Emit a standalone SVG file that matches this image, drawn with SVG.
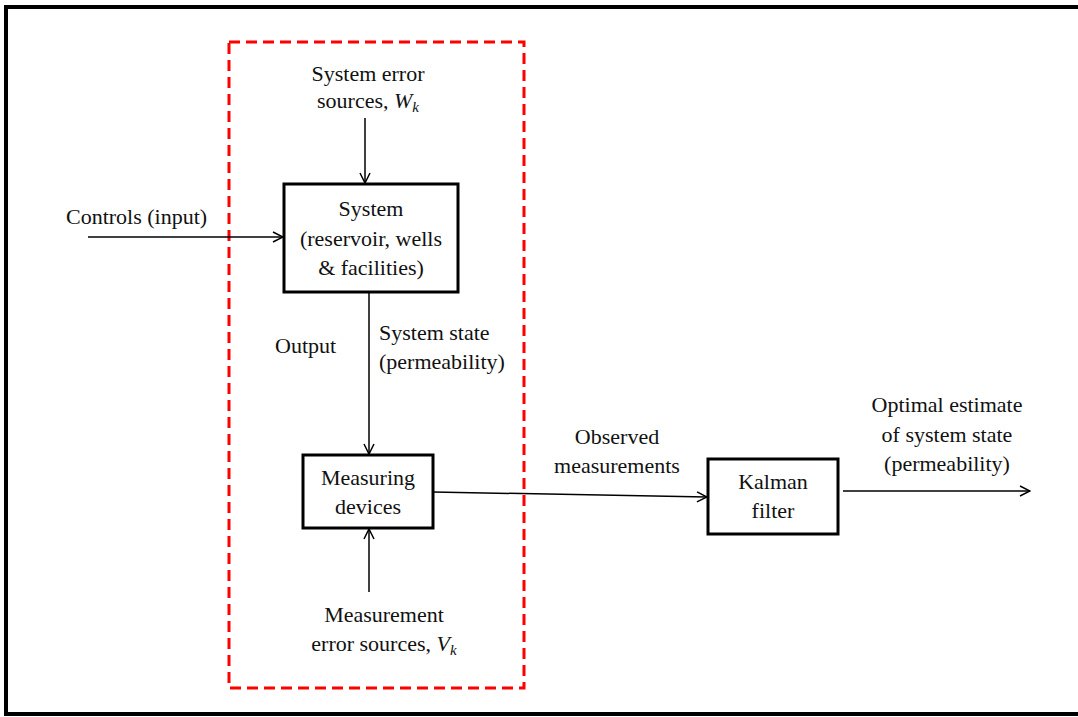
<svg xmlns="http://www.w3.org/2000/svg" width="1078" height="717" viewBox="0 0 1078 717">
  <style>
    text { font-family: "Liberation Serif", "Times New Roman", serif; font-size: 22px; fill: #111; }
    .c { text-anchor: middle; }
    .m { font-style: italic; }
    .box { fill: #fff; stroke: #000; stroke-width: 3; }
    .ln { fill: none; stroke: #000; stroke-width: 1.5; }
  </style>
  <defs>
    <marker id="arr" viewBox="0 0 12 12" refX="11" refY="6" markerWidth="12" markerHeight="12" markerUnits="userSpaceOnUse" orient="auto">
      <path d="M1,1 L11,6 L1,11" fill="none" stroke="#000" stroke-width="1.5"/>
    </marker>
  </defs>

  <!-- outer frame -->
  <rect x="0" y="0" width="1078" height="717" fill="#fff"/>
  <rect x="6" y="7" width="1080" height="707" fill="none" stroke="#000" stroke-width="4"/>

  <!-- dashed boundary -->
  <rect x="229" y="42" width="295" height="646" fill="none" stroke="#f00" stroke-width="3" stroke-dasharray="11 6"/>

  <!-- connectors -->
  <g id="connectors">
    <line class="ln" x1="365" y1="118" x2="365" y2="183" marker-end="url(#arr)"/>
    <line class="ln" x1="88" y1="237" x2="283" y2="237" marker-end="url(#arr)"/>
    <line class="ln" x1="369" y1="288" x2="369" y2="454" marker-end="url(#arr)"/>
    <line class="ln" x1="369" y1="592" x2="369" y2="529" marker-end="url(#arr)"/>
    <line class="ln" x1="433" y1="492" x2="707" y2="497" marker-end="url(#arr)"/>
    <line class="ln" x1="843" y1="491" x2="1030" y2="491" marker-end="url(#arr)"/>
  </g>

  <!-- nodes -->
  <g id="system">
    <rect class="box" x="284" y="184" width="174" height="108"/>
    <text class="c" x="371" y="216">System</text>
    <text class="c" x="371" y="246">(reservoir, wells</text>
    <text class="c" x="371" y="275">&amp; facilities)</text>
  </g>
  <g id="measuring">
    <rect class="box" x="303" y="455" width="130" height="73"/>
    <text class="c" x="368" y="485">Measuring</text>
    <text class="c" x="368" y="514">devices</text>
  </g>
  <g id="kalman">
    <rect class="box" x="708" y="459" width="130" height="75"/>
    <text class="c" x="773" y="489">Kalman</text>
    <text class="c" x="773" y="518">filter</text>
  </g>

  <!-- labels -->
  <g id="labels">
    <text class="c" x="368" y="81">System error</text>
    <text class="c" x="368" y="108">sources, <tspan class="m">W</tspan><tspan class="m" font-size="15" dy="4">k</tspan></text>
    <text x="66" y="224">Controls (input)</text>
    <text x="275" y="353">Output</text>
    <text x="379" y="340">System state</text>
    <text x="379" y="369">(permeability)</text>
    <text class="c" x="384" y="622">Measurement</text>
    <text class="c" x="384" y="651">error sources, <tspan class="m">V</tspan><tspan class="m" font-size="15" dy="4">k</tspan></text>
    <text class="c" x="617" y="444">Observed</text>
    <text class="c" x="617" y="473">measurements</text>
    <text class="c" x="947" y="412">Optimal estimate</text>
    <text class="c" x="947" y="442">of system state</text>
    <text class="c" x="947" y="471">(permeability)</text>
  </g>
</svg>
